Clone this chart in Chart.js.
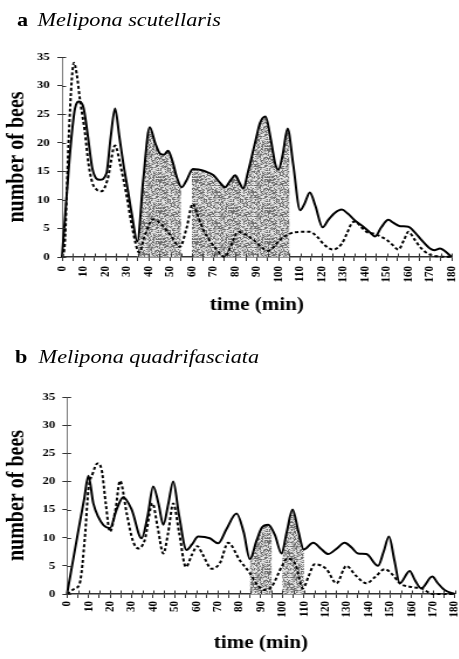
<!DOCTYPE html>
<html><head><meta charset="utf-8">
<script src="https://cdn.jsdelivr.net/npm/chart.js@4.4.1/dist/chart.umd.min.js"></script>
<style>
html,body{margin:0;padding:0;background:#fff;overflow:hidden;}
#wrap{position:absolute;left:0;top:0;width:392px;height:659px;transform:scaleX(1.17);transform-origin:0 0;}
.t{position:absolute;font-family:'Liberation Serif','Times New Roman',serif;font-size:19px;line-height:19px;color:#000;white-space:nowrap;}
.lb{font-weight:bold;}
.sp{font-style:italic;}
.panel{position:absolute;left:0;width:392px;}
</style></head>
<body>
<div id="wrap">
  <div class="t lb" style="left:14.5px;top:9.5px;">a</div>
  <div class="t sp" style="left:32px;top:9.5px;">Melipona scutellaris</div>
  <div class="panel" style="top:0;height:330px;"><canvas id="ca"></canvas></div>
  <div class="t lb" style="left:12.8px;top:346.5px;">b</div>
  <div class="t sp" style="left:33px;top:346.5px;">Melipona quadrifasciata</div>
  <div class="panel" style="top:330px;height:329px;"><canvas id="cb"></canvas></div>
</div>
<script>
// ---- data (time in min, number of bees) ----
const xTicks = [0,5,10,15,20,25,30,35,40,45,50,55,60,65,70,75,80,85,90,95,100,105,110,115,120,125,130,135,140,145,150,155,160,165,170,175,180];
const xLabels = [0,10,20,30,40,50,60,70,80,90,100,110,120,130,140,150,160,170,180];
const yTicks = [0,5,10,15,20,25,30,35];

// panel a: Melipona scutellaris
const tA_solid = [0,2,4,6,8,10,12,14,17.5,20.5,22.5,24.5,26.5,28.3,30.5,32.2,34.8,37.5,40.5,43,45.3,47,49,51,53,55.3,57.5,60.5,63,66,70,73,75.3,78,80,82,83.7,86,89.5,91.5,94,96.5,98.5,100,102,104.2,106.8,110,112,114.5,117,120.4,123,126,129.2,132,135.3,139.2,142,144.6,147.5,150.8,153,156.2,160,163,166,170,172,174.6,177,180];
const vA_solid = [0,10,19.5,26,27.2,26,21,15.5,13.5,14.6,21,26,21,16.4,11.5,7.6,2.7,13.4,22.7,20,18.1,17.9,18.6,16.8,14,12.2,13.4,15.4,15.3,15,14.3,13,12.2,13.5,14.3,13,12,15,20.5,23.5,24.6,20.5,16.3,15.3,18,22.5,16.2,8.2,9.3,11.3,9,5.2,6.5,7.7,8.3,7.6,6.4,5.3,4.4,3.6,5.2,6.5,6,5.4,5.3,4.3,3,1.5,1.2,1.5,1,0];
const tA_dash = [0,1.2,3,4.5,5.5,6.8,8.3,10.5,12.2,14,16,18.3,21,24.5,27,29.9,32.5,35.7,38,42.2,45.3,49.9,54.5,57.5,60.4,62.5,65.3,68,71,75.3,78,81.4,84.5,88.4,95.3,100.7,105.3,110,114.5,118,121,125.3,129,131.5,133.8,135.5,138,140.7,144.6,150,153,155.4,158,160,163,166,170,175,180];
const vA_dash = [0,2,20,31,34,32,27.5,22,16.4,13,11.8,11.5,13.5,19.5,16,10.6,5,0.8,3.5,6.6,5.9,3.9,1.8,5,9.3,7.5,4.7,3,1.5,0,2,4.4,4,3,1.1,3,4.1,4.4,4.4,3.5,2.2,1.3,2.2,4,5.9,6.2,5.3,4.4,4,3,2,1.3,3,4.4,3,1.5,0.4,0.1,0];
const shadeA = [[35,55],[60,105]];

// panel b: Melipona quadrifasciata
const tB_solid = [0,5.3,8,9.9,12.2,14.5,17,19.9,23,26.1,30,34.6,37.5,40,42.5,44.7,47,49.3,52,55.5,58,60.9,66.3,70.2,74,78.7,82,84.9,88,90.5,93.4,96.5,99.6,102,104.7,107.5,109.9,114.3,118,121.2,125,128.9,132,135.1,139,144.4,147,149.5,152,154.5,159.1,161.5,164.5,169.6,172,175.3,180];
const vB_solid = [0,11.4,17,21,16.1,13.7,12.2,11.7,15,17.2,15,9.9,14,19.1,16,12.3,16,20,14,7.8,8.8,10.2,9.9,9,11.5,14.3,11,6.2,9.5,11.8,12.3,10.5,7.2,11,15,11,7.9,9.1,8,7.1,8,9.1,8.3,7.2,7.1,5,7.5,10.2,6,1.9,4.1,2.5,1,3.1,2,0.7,0];
const tB_dash = [0,3.7,5.9,8.3,9.9,12,14.1,16.1,18,19.9,22.5,24.6,27.7,30.5,33.1,36,39.7,42,44.7,47,49.3,52,55.2,58,60.5,63,67.1,71,74.8,80.2,84.9,88,91.8,95,99.6,102.2,106,109.6,112,115,120.5,125.1,129.7,134,139,143,147.5,151,154.5,160.6,164.5,170,175,180];
const vB_dash = [0,1,1.9,10.2,18.5,21.5,23.2,22,16,11.1,15,20.1,14.3,9.5,8.1,9.5,16.1,12,7.2,11,16.1,11,4.8,7,8.5,7,4.5,5.5,9.1,6,3.7,1.8,0.7,1.3,4.8,6.3,5.3,1,3,5.3,4.4,1.9,5,3.3,1.9,3,4.4,3.5,1.9,1.2,1,0,0,0];
const shadeB = [[85,95],[100,110]];

// ---- helpers ----
const FONT = "'Liberation Serif','Times New Roman',serif";
Chart.defaults.font.family = FONT;
Chart.defaults.color = '#000';

function stipple() {
  const N = 31;
  const c = document.createElement('canvas');
  c.width = N; c.height = N;
  const g = c.getContext('2d');
  const img = g.createImageData(N, N);
  for (let y = 0; y < N; y++) for (let x = 0; x < N; x++) {
    let h = Math.imul(x + 1, 374761393) ^ Math.imul(y + 7, 668265263);
    h = Math.imul(h ^ (h >>> 15), 2246822519);
    h = Math.imul(h ^ (h >>> 13), 3266489917);
    h = (h ^ (h >>> 16)) >>> 0;
    const k = h % 100;
    const v = k < 30 ? 110 : (k < 62 ? 175 : 228);
    const i = (y * N + x) * 4;
    img.data[i] = v; img.data[i+1] = v; img.data[i+2] = v; img.data[i+3] = 255;
  }
  g.putImageData(img, 0, 0);
  return g.createPattern(c, 'repeat');
}

function pts(t, v) { return t.map((x, i) => ({x: x, y: v[i]})); }

const shadePlugin = {
  id: 'shade',
  beforeDatasetsDraw(chart, args, opts) {
    const meta = chart.getDatasetMeta(0);
    const line = meta.dataset;
    const xs = chart.scales.x, ys = chart.scales.y;
    const ctx = chart.ctx;
    const base = ys.getPixelForValue(0);
    const top = chart.chartArea.top;
    ctx.save();
    ctx.beginPath();
    opts.ranges.forEach(r => {
      const a = xs.getPixelForValue(r[0]), b = xs.getPixelForValue(r[1]);
      ctx.rect(a, top - 5, b - a, base - top + 5);
    });
    ctx.clip();
    ctx.beginPath();
    line.path(ctx);
    const p = meta.data;
    ctx.lineTo(p[p.length - 1].x, base);
    ctx.lineTo(p[0].x, base);
    ctx.closePath();
    ctx.fillStyle = stipple();
    ctx.fill();
    ctx.restore();
  }
};

const innerTicks = {
  id: 'innerTicks',
  afterDraw(chart) {
    const ctx = chart.ctx, xs = chart.scales.x, ys = chart.scales.y;
    const ax = chart.chartArea.left, ay = ys.getPixelForValue(0);
    ctx.save();
    ctx.lineWidth = 1;
    ctx.strokeStyle = '#333';
    ctx.beginPath();
    yTicks.forEach(v => { const y = Math.round(ys.getPixelForValue(v)) + 0.5; ctx.moveTo(ax, y); ctx.lineTo(ax + 3.5, y); });
    xTicks.forEach(v => { const x = Math.round(xs.getPixelForValue(v)) + 0.5; ctx.moveTo(x, ay); ctx.lineTo(x, ay - 3.5); });
    ctx.stroke();
    ctx.restore();
  }
};

function makeChart(id, d) {
  return new Chart(document.getElementById(id), {
    type: 'line',
    data: {
      datasets: [
        { data: pts(d.ts, d.vs), borderColor: '#000', borderWidth: 2, pointRadius: 0,
          cubicInterpolationMode: 'monotone', fill: false, clip: false },
        { data: pts(d.td, d.vd), borderColor: '#000', borderWidth: 2, borderDash: [3, 2.2], pointRadius: 0,
          cubicInterpolationMode: 'monotone', fill: false, clip: false }
      ]
    },
    options: {
      responsive: true, maintainAspectRatio: false, animation: false,
      events: [],
      layout: { padding: { top: d.top, right: d.right, bottom: 0, left: 0 } },
      plugins: { legend: { display: false }, tooltip: { enabled: false }, shade: { ranges: d.shade } },
      scales: {
        x: {
          type: 'linear', min: 0, max: 180,
          afterBuildTicks: s => { s.ticks = xTicks.map(v => ({ value: v })); },
          afterFit: s => { s.height = d.xh; s.paddingLeft = 0; s.paddingRight = 0; },
          grid: { drawOnChartArea: false, drawTicks: true, tickLength: 4, tickColor: '#333', tickWidth: 1 },
          border: { display: true, color: '#333', width: 1.4 },
          ticks: {
            autoSkip: false, maxRotation: 90, minRotation: 90, padding: d.xpad,
            font: { size: 11, weight: 'bold' },
            callback: v => (xLabels.indexOf(v) >= 0 ? String(v) : '')
          },
          title: { display: true, text: 'time (min)', font: { size: 18, weight: 'bold' },
                   padding: { top: 0, bottom: d.xtitlePad }, color: '#000' }
        },
        y: {
          min: 0, max: 35,
          afterBuildTicks: s => { s.ticks = yTicks.map(v => ({ value: v })); },
          afterFit: s => { s.width = d.left; },
          grid: { drawOnChartArea: false, drawTicks: true, tickLength: 4, tickColor: '#333', tickWidth: 1 },
          border: { display: true, color: '#777', width: 1 },
          ticks: { padding: d.ypad, font: { size: 11, weight: 'bold' } },
          title: { display: true, text: 'number of bees', font: { size: 20, weight: 'bold' },
                   padding: { top: 3, bottom: 0 }, color: '#000' }
        }
      }
    },
    plugins: [shadePlugin, innerTicks]
  });
}

makeChart('ca', { ts: tA_solid, vs: vA_solid, td: tA_dash, vd: vA_dash, shade: shadeA,
  top: 57, right: 6, left: 53, xh: 73, xpad: 5, ypad: 6.5, xtitlePad: 14 });
makeChart('cb', { ts: tB_solid, vs: vB_solid, td: tB_dash, vd: vB_dash, shade: shadeB,
  top: 67, right: 3.4, left: 57.3, xh: 65, xpad: 3, ypad: 6, xtitlePad: 5 });
</script>
</body></html>
